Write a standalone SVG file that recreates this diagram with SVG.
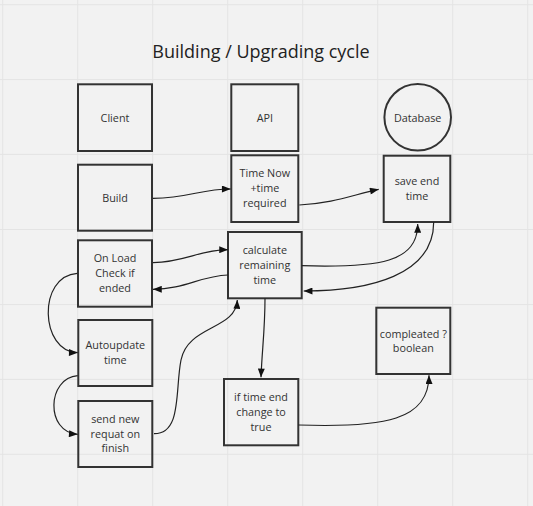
<svg xmlns="http://www.w3.org/2000/svg" width="533" height="506" viewBox="0 0 533 506">
<style>
.grid{stroke:#e4e4e4;stroke-width:1}
.box{fill:none;stroke:#333;stroke-width:2}
.t{font-family:"Open Sans","DejaVu Sans",sans-serif;font-size:10.8px;fill:#333;text-anchor:middle;dominant-baseline:central}
.title{font-family:"Open Sans","DejaVu Sans",sans-serif;font-size:18px;fill:#222;text-anchor:middle}
.c{fill:none;stroke:#222;stroke-width:1.2;marker-end:url(#ah)}
</style>
<defs>
<marker id="ah" viewBox="0 0 10 8" refX="10" refY="4" markerWidth="10" markerHeight="7" markerUnits="userSpaceOnUse" orient="auto">
<path d="M0,0 L10,4 L0,8 Z" fill="#111"/>
</marker>
</defs>
<rect width="533" height="506" fill="#f2f2f2"/>
<g id="grid">
<line class="grid" x1="2.7" y1="0" x2="2.7" y2="506"/>
<line class="grid" x1="77.7" y1="0" x2="77.7" y2="506"/>
<line class="grid" x1="152.7" y1="0" x2="152.7" y2="506"/>
<line class="grid" x1="227.7" y1="0" x2="227.7" y2="506"/>
<line class="grid" x1="302.7" y1="0" x2="302.7" y2="506"/>
<line class="grid" x1="377.7" y1="0" x2="377.7" y2="506"/>
<line class="grid" x1="452.7" y1="0" x2="452.7" y2="506"/>
<line class="grid" x1="527.7" y1="0" x2="527.7" y2="506"/>
<line class="grid" x1="0" y1="4.7" x2="533" y2="4.7"/>
<line class="grid" x1="0" y1="79.6" x2="533" y2="79.6"/>
<line class="grid" x1="0" y1="154.4" x2="533" y2="154.4"/>
<line class="grid" x1="0" y1="229.5" x2="533" y2="229.5"/>
<line class="grid" x1="0" y1="304.6" x2="533" y2="304.6"/>
<line class="grid" x1="0" y1="379.4" x2="533" y2="379.4"/>
<line class="grid" x1="0" y1="454.3" x2="533" y2="454.3"/>
</g>
<text class="title" x="261" y="58">Building / Upgrading cycle</text>
<g id="client"><rect class="box" x="78" y="84.3" width="74" height="66.7"/><text class="t" x="115" y="117">Client</text></g>
<g id="api"><rect class="box" x="231.3" y="84.3" width="67" height="66.7"/><text class="t" x="264.8" y="117">API</text></g>
<g id="database"><circle class="box" cx="417.7" cy="117.3" r="33.3"/><text class="t" x="417.7" y="117">Database</text></g>
<g id="build"><rect class="box" x="78" y="164.7" width="74" height="66"/><text class="t" x="115" y="197">Build</text></g>
<g id="timenow"><rect class="box" x="231.3" y="155.3" width="67" height="66.7"/><text class="t" x="264.8" y="172.7">Time Now</text><text class="t" x="264.8" y="187.7">+time</text><text class="t" x="264.8" y="202.7">required</text></g>
<g id="saveend"><rect class="box" x="383.7" y="155.7" width="66.6" height="66.3"/><text class="t" x="417" y="180.7">save end</text><text class="t" x="417" y="195">time</text></g>
<g id="onload"><rect class="box" x="78" y="240.3" width="74" height="66.4"/><text class="t" x="115" y="257.3">On Load</text><text class="t" x="115" y="272.7">Check if</text><text class="t" x="115" y="287.7">ended</text></g>
<g id="calculate"><rect class="box" x="228" y="232" width="73.7" height="66.3"/><text class="t" x="264.8" y="249">calculate</text><text class="t" x="264.8" y="264.3">remaining</text><text class="t" x="264.8" y="279">time</text></g>
<g id="compleated"><rect class="box" x="376.3" y="307.7" width="74" height="66.3"/><text class="t" x="413.3" y="333">compleated ?</text><text class="t" x="413.3" y="347.7">boolean</text></g>
<g id="autoupdate"><rect class="box" x="78.3" y="320" width="74" height="66"/><text class="t" x="115.3" y="344.7">Autoupdate</text><text class="t" x="115.3" y="359.3">time</text></g>
<g id="sendnew"><rect class="box" x="78.3" y="401" width="74" height="66"/><text class="t" x="115.3" y="418.3">send new</text><text class="t" x="115.3" y="433.3">requat on</text><text class="t" x="115.3" y="447.7">finish</text></g>
<g id="iftimeend"><rect class="box" x="224" y="379" width="74.3" height="66.3"/><text class="t" x="261" y="396">if time end</text><text class="t" x="261" y="411">change to</text><text class="t" x="261" y="426">true</text></g>
<g id="connectors">
<path class="c" d="M153,198.3 C190,198 200,189 230.7,189"/>
<path class="c" d="M299.3,205 C335,203 352,195 378.7,189.3"/>
<path class="c" d="M153,262.7 C185,262 200,249.7 228,249.7"/>
<path class="c" d="M228,275 C200,276 185,289.3 153,289.3"/>
<path class="c" d="M301.7,265.7 C380,268 417.7,262 417.7,224"/>
<path class="c" d="M433.7,222 C433.7,275 370,291 303.7,291"/>
<path class="c" d="M265,298.3 C265,330 262,350 261,377.3"/>
<path class="c" d="M77.3,273.3 C37,276 40,352 77.7,352.7"/>
<path class="c" d="M77.7,375.7 C47,378 45,432 77.7,434.3"/>
<path class="c" d="M154,433.7 C182,434 175,390 181,360 C188,325 236,330 237.3,300"/>
<path class="c" d="M298.3,425 C385,428 429,420 429,375.3"/>
</g>
</svg>
